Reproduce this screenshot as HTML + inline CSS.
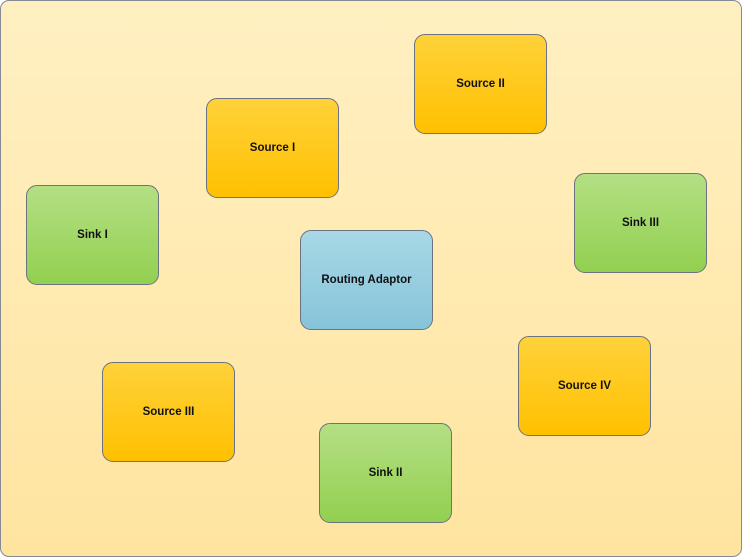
<!DOCTYPE html>
<html><head><meta charset="utf-8"><style>
html,body{margin:0;padding:0;width:742px;height:557px;overflow:hidden;background:#fff}
.bg{position:absolute;left:0;top:0;width:740px;height:555px;border:1px solid #858a94;border-radius:9px;background:linear-gradient(#fff0c2,#ffe4a0)}
.b{position:absolute;width:131px;height:98px;border:1px solid #6b7280;border-radius:11px;display:flex;align-items:center;justify-content:center;font:bold 11.5px "Liberation Sans",sans-serif;color:#111;box-sizing:content-box}
.o{background:linear-gradient(#ffd23a,#ffc000)}
.g{background:linear-gradient(#b4df84,#92d050)}
.u{background:linear-gradient(#a8d8e6,#86c4da)}
</style></head><body>
<div class="bg"></div>
<div class="b o" style="left:414px;top:34px">Source II</div>
<div class="b o" style="left:206px;top:98px">Source I</div>
<div class="b g" style="left:26px;top:185px">Sink I</div>
<div class="b g" style="left:574px;top:173px">Sink III</div>
<div class="b u" style="left:300px;top:230px">Routing Adaptor</div>
<div class="b o" style="left:518px;top:336px">Source IV</div>
<div class="b o" style="left:102px;top:362px">Source III</div>
<div class="b g" style="left:319px;top:423px">Sink II</div>
</body></html>
